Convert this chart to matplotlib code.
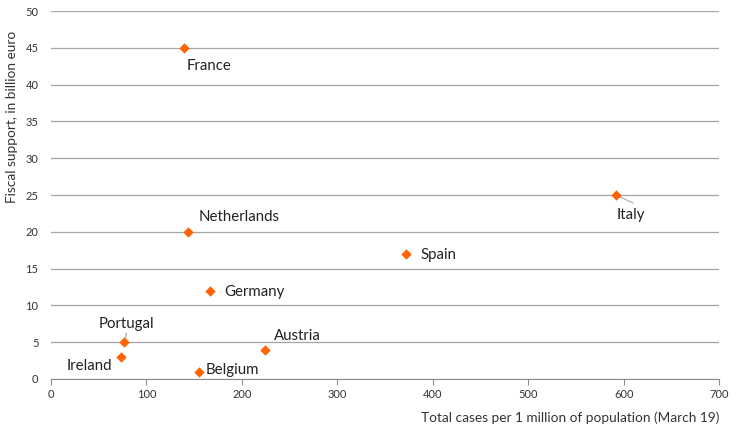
import matplotlib
matplotlib.use("Agg")
import matplotlib.pyplot as plt

countries = ["France", "Netherlands", "Germany", "Spain", "Italy",
             "Austria", "Belgium", "Portugal", "Ireland"]
cases = [139, 144, 167, 372, 592, 224, 155, 77, 73]
support = [45, 20, 12, 17, 25, 4, 1, 5, 3]

# label offsets in pixels (left edge, vertical centre)
offsets = {"France": (3, -18), "Netherlands": (10, 15), "Germany": (14, -1),
           "Spain": (14, -1), "Italy": (1, -20), "Austria": (9, 14),
           "Belgium": (7, 2), "Portugal": (-26, 18), "Ireland": (-54, -9)}
# short grey leader lines (end point offset in pixels)
leaders = {"Italy": (17, -8), "Portugal": (2, 9)}

plt.rcParams['font.family'] = ['Lato', 'DejaVu Sans']

fig = plt.figure(figsize=(7.36, 4.29), dpi=100)
ax = fig.add_axes([0.0693, 0.1166, 0.9077, 0.8576])

ax.scatter(cases, support, marker="D", s=28, color="#FF6200", zorder=3, linewidths=0)

for name, xv, yv in zip(countries, cases, support):
    dx, dy = offsets[name]
    ax.annotate(name, (xv, yv), xytext=(dx, dy), textcoords="offset pixels",
                ha="left", va="center", fontsize=10.8, color="#222222")
    if name in leaders:
        lx, ly = leaders[name]
        ax.annotate("", (xv, yv), xytext=(lx, ly), textcoords="offset pixels",
                    arrowprops=dict(arrowstyle="-", color="#b0b0b0", lw=0.9,
                                    shrinkA=0, shrinkB=0), zorder=2)

ax.set_xlim(0, 700)
ax.set_ylim(0, 50)
ax.set_xticks(range(0, 701, 100))
ax.set_yticks(range(0, 51, 5))
ax.grid(axis="y", color="#a6a6a6", lw=0.9)
ax.set_axisbelow(True)
for s in ["top", "right", "left"]:
    ax.spines[s].set_visible(False)
ax.spines["bottom"].set_color("#8c8c8c")
ax.tick_params(axis="y", length=0, labelsize=8, colors="#333333", pad=9)
ax.tick_params(axis="x", length=4, color="#8c8c8c", labelsize=8, colors="#333333", pad=3)

fig.text(0.977, 0.027, "Total cases per 1 million of population (March 19)",
         ha="right", va="center", fontsize=9.8, color="#333333")
fig.text(0.016, 0.727, "Fiscal support, in billion euro", rotation=90,
         ha="center", va="center", fontsize=9.8, color="#333333")

fig.savefig("out.png", dpi=100)
